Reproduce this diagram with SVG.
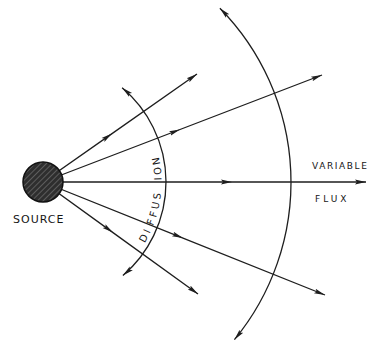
<svg xmlns="http://www.w3.org/2000/svg" width="370" height="345" viewBox="0 0 370 345">
<style>
.ln{fill:none;stroke:#1e1e1e;stroke-width:1.3}
.ray{marker-mid:url(#ah);marker-end:url(#ah)}
.arc{marker-start:url(#ah);marker-end:url(#ah)}
.lbl{font-family:"DejaVu Sans",sans-serif;fill:#161616}
</style>
<defs>
<marker id="ah" markerUnits="userSpaceOnUse" markerWidth="12" markerHeight="8" refX="11" refY="3" orient="auto-start-reverse" viewBox="0 0 12 6">
<path d="M0,0.6 L11,3 L0,5.4 L2,3 z" fill="#1e1e1e"/>
</marker>
<pattern id="hatch" patternUnits="userSpaceOnUse" width="4" height="4" patternTransform="rotate(45)">
<rect width="4" height="4" fill="#2e2e2e"/>
<line x1="0" y1="0" x2="0" y2="4" stroke="#8a8a8a" stroke-width="1"/>
</pattern>
<path id="tp" d="M 143.5 244.8 A 118.5 118.5 0 0 0 156.9 149.3"/>
</defs>
<g id="connectors">
<path class="ln ray" d="M43,182 L112,133.6 L197,74"/>
<path class="ln ray" d="M43,182 L180,129.5 L322,75"/>
<path class="ln ray" d="M43,182 L232,182 L366,182"/>
<path class="ln ray" d="M43,182 L183,238.1 L325,295"/>
<path class="ln ray" d="M43,182 L113,232.6 L198,294"/>
</g>
<g id="diffusion-front">
<path class="ln arc" d="M122.1,87.8 A123,123 0 0 1 122.9,275.5"/>
<text class="lbl" font-size="10" letter-spacing="2.6"><textPath href="#tp" startOffset="2">DI</textPath></text>
<text class="lbl" font-size="10" letter-spacing="2.8"><textPath href="#tp" startOffset="21">FFUS</textPath></text>
<text class="lbl" font-size="10" letter-spacing="2.6"><textPath href="#tp" startOffset="68">ION</textPath></text>
</g>
<g id="variable-front">
<path class="ln arc" d="M219.9,8.2 A248,248 0 0 1 234.4,339.7"/>
<text class="lbl" x="312" y="169" font-size="9" letter-spacing="1.6">VARIABLE</text>
<text class="lbl" x="315" y="202" font-size="9" letter-spacing="3">FLUX</text>
</g>
<g id="source">
<circle cx="43" cy="182" r="20" fill="url(#hatch)" stroke="#111" stroke-width="1.5"/>
<text class="lbl" x="13" y="223" font-size="11" letter-spacing="1">SOURCE</text>
</g>
</svg>
